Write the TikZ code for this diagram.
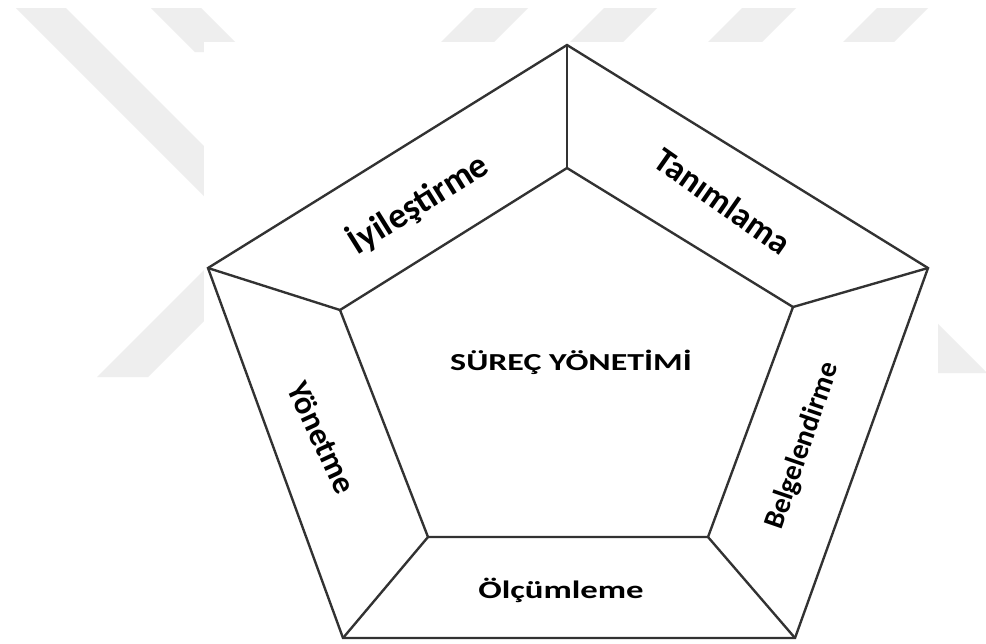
\documentclass[tikz,border=0pt]{standalone}
\usepackage{fontspec}
\setmainfont{Carlito}
\definecolor{wmgray}{RGB}{238,238,238}
\definecolor{edgegray}{RGB}{50,50,50}
\begin{document}
\begin{tikzpicture}[x=0.02cm,y=-0.02cm,
        edge/.style={edgegray,line width=1.35pt,line join=miter},
        lbl/.style={inner sep=0pt}]
        \useasboundingbox (0,0) rectangle (986,643);
        \fill[white] (0,0) rectangle (986,643);
        % watermark bands
        \fill[wmgray] (16,8) -- (66,8) -- (214,156) -- (214,206) -- cycle;
        \fill[wmgray] (151,8) -- (201,8) -- (245,52) -- (195,52) -- cycle;
        \fill[wmgray] (475,8) -- (528,8) -- (486,50) -- (433,50) -- cycle;
        \fill[wmgray] (604,8) -- (657,8) -- (615,50) -- (562,50) -- cycle;
        \fill[wmgray] (742,8) -- (796,8) -- (754,50) -- (700,50) -- cycle;
        \fill[wmgray] (877,8) -- (928,8) -- (886,50) -- (835,50) -- cycle;
        \fill[wmgray] (97,377) -- (148,377) -- (230,295) -- (230,244) -- cycle;
        \fill[wmgray] (900,286) -- (987,373) -- (900,373) -- cycle;
        \fill[white] (204,42) rectangle (938,643);
        % pentagon corners
        \coordinate (oT) at (567,45);
        \coordinate (oR) at (928,268);
        \coordinate (oBR) at (795,638);
        \coordinate (oBL) at (343,638);
        \coordinate (oL) at (208,268);
        \coordinate (iT) at (567,168);
        \coordinate (iR) at (793,307);
        \coordinate (iBR) at (708,537);
        \coordinate (iBL) at (428,537);
        \coordinate (iL) at (340,310);
        \draw[edge] (oT) -- (oR) -- (oBR) -- (oBL) -- (oL) -- cycle;
        \draw[edge] (iT) -- (iR) -- (iBR) -- (iBL) -- (iL) -- cycle;
        \draw[edge] (oT) -- (iT);
        \draw[edge] (oR) -- (iR);
        \draw[edge] (oBR) -- (iBR);
        \draw[edge] (oBL) -- (iBL);
        \draw[edge] (oL) -- (iL);
        % labels
        \node[lbl,rotate=32] (iyi) at (418,203) {\fontsize{20.5}{24}\selectfont\bfseries İyileştirme};
        \node[lbl,rotate=-35] (tan) at (723,201) {\fontsize{19.8}{24}\selectfont\bfseries Tanımlama};
        \node[lbl,rotate=-65] (yon) at (322,438) {\fontsize{18.5}{22}\selectfont\bfseries Yönetme};
        \node[lbl,rotate=71] (bel) at (803,446) {\fontsize{16.5}{20}\selectfont\bfseries Belgelendirme};
        \node[lbl] (olc) at (561,590) {\scalebox{1}[0.72]{\fontsize{19.8}{24}\selectfont\bfseries Ölçümleme}};
        \node[lbl] (sy) at (571,362) {\scalebox{1}[0.72]{\fontsize{19.3}{24}\selectfont\bfseries SÜREÇ YÖNETİMİ}};
    \end{tikzpicture}
\end{document}
